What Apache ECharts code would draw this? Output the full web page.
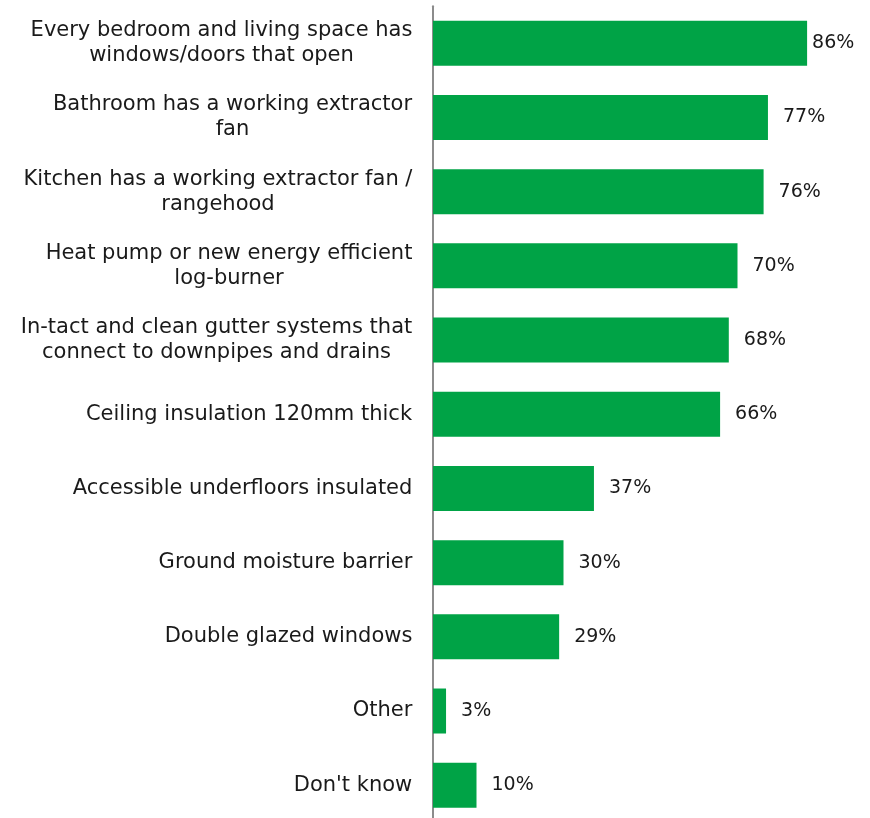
<!DOCTYPE html>
<html>
<head>
<meta charset="utf-8">
<script src="https://cdn.jsdelivr.net/npm/echarts@6/dist/echarts.min.js"></script>
<style>
html,body{margin:0;padding:0;background:#fff;overflow:hidden;width:870px;height:818px;}
#chart{width:870px;height:823px;}
</style>
</head>
<body>
<div id="chart"></div>
<script>
const categories = [
  "Every bedroom and living space has\nwindows/doors that open",
  "Bathroom has a working extractor\nfan",
  "Kitchen has a working extractor fan /\nrangehood",
  "Heat pump or new energy efficient\nlog-burner",
  "In-tact and clean gutter systems that\nconnect to downpipes and drains",
  "Ceiling insulation 120mm thick",
  "Accessible underfloors insulated",
  "Ground moisture barrier",
  "Double glazed windows",
  "Other",
  "Don't know"
];
const values = [86, 77, 76, 70, 68, 66, 37, 30, 29, 3, 10];

const FONT = "DejaVu Sans";
const CAT_SIZE = 21;
const ctx = document.createElement('canvas').getContext('2d');
ctx.font = CAT_SIZE + 'px "' + FONT + '"';
const rich = {};
categories.forEach(function (c, i) {
  const w = Math.max.apply(null, c.split('\n').map(function (s) { return ctx.measureText(s).width; }));
  rich['c' + i] = {
    width: Math.ceil(w) + 1,
    align: 'center',
    fontFamily: FONT,
    fontSize: CAT_SIZE,
    lineHeight: 25,
    color: '#1a1a1a'
  };
});

const chart = echarts.init(document.getElementById('chart'), null, {renderer: 'canvas'});
const data = values.map(function (v) {
  const item = { value: v };
  if (v >= 85) item.label = { distance: 5 };
  return item;
});
chart.setOption({
  animation: false,
  backgroundColor: '#ffffff',
  grid: { left: 433, right: 2, top: 6.2, bottom: 0.7, containLabel: false },
  xAxis: {
    type: 'value', min: 0, max: 100,
    show: false
  },
  yAxis: {
    type: 'category',
    inverse: true,
    data: categories,
    axisLine: { show: true, lineStyle: { color: '#8c8c8c', width: 2 } },
    axisTick: { show: false },
    axisLabel: {
      margin: 20,
      color: '#1a1a1a',
      fontFamily: FONT,
      fontSize: CAT_SIZE,
      lineHeight: 25,
      align: 'right',
      formatter: function (val, idx) {
        return val.split('\n').map(function (s) { return '{c' + idx + '|' + s + '}'; }).join('\n');
      },
      rich: rich
    }
  },
  series: [{
    type: 'bar',
    data: data,
    barWidth: 45,
    itemStyle: { color: '#00A346' },
    label: {
      show: true,
      position: 'right',
      distance: 15,
      formatter: '{c}%',
      color: '#1a1a1a',
      fontFamily: FONT,
      fontSize: 19
    }
  }]
});
</script>
</body>
</html>
